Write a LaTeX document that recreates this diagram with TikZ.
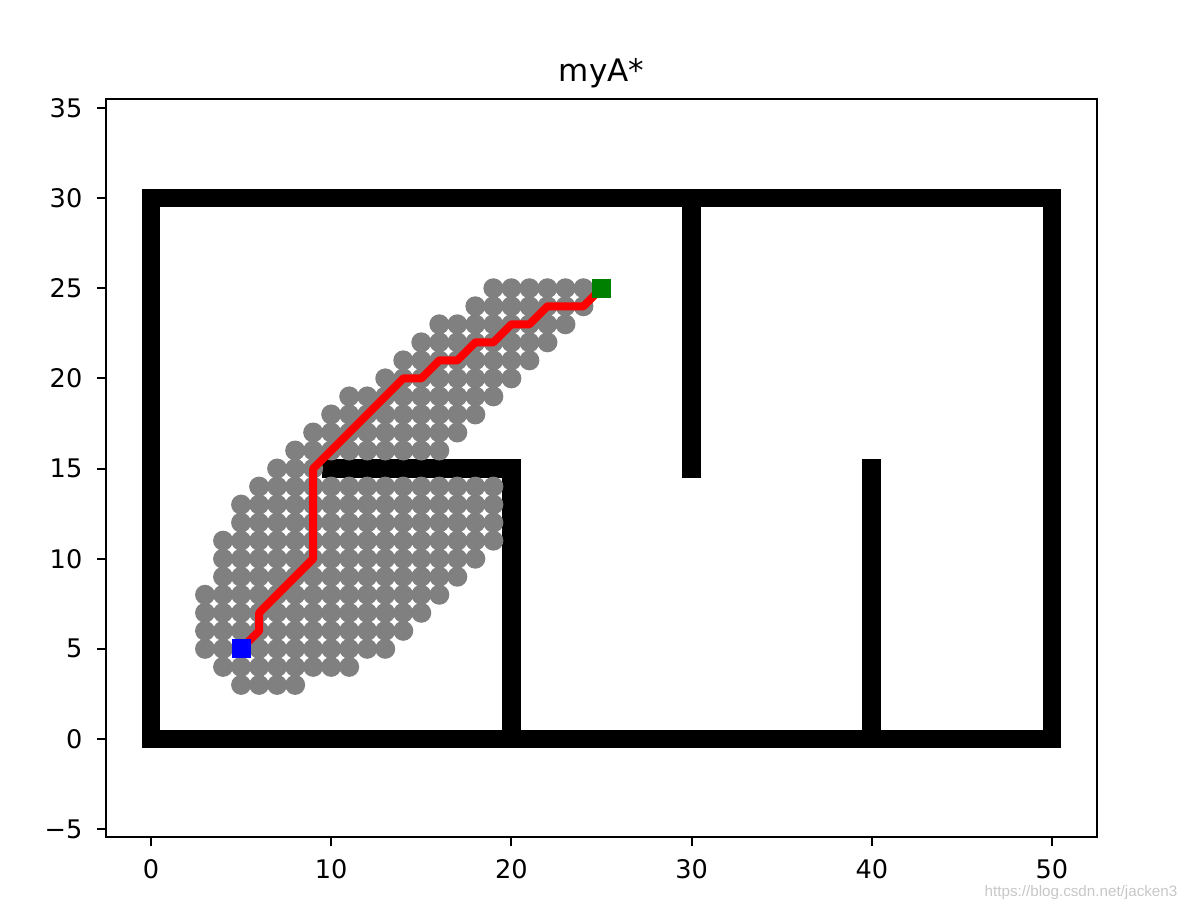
\documentclass[tikz,border=0pt]{standalone}
\usepackage{fontspec}
\setmainfont{DejaVu Sans}
\newfontfamily\wmfont{Liberation Sans}
\begin{document}
\begin{tikzpicture}[x=9.01pt,y=9.015pt,
  wall/.style={fill=black},
  visited/.style={fill=gray},
  pathline/.style={draw=red, line width=4pt, line join=round},
  marker/.style={minimum size=9.4pt, inner sep=0pt, outer sep=0pt},
  frame/.style={draw=black, line width=1pt},
  tickmark/.style={draw=black, line width=1pt},
  ticklab/.style={font=\fontsize{12.8}{14}\selectfont, inner sep=0pt, text=black},
  titlelab/.style={font=\fontsize{15.5}{18}\selectfont, inner sep=0pt},
  watermark/.style={font=\wmfont\fontsize{7.6}{9}\selectfont, inner sep=0pt, text=black!22}
]
\useasboundingbox (-8.3796,-9.484) rectangle (57.658,40.987);
% walls
\fill[wall] (-0.52,-0.52) rectangle (50.52,0.52);
\fill[wall] (-0.52,29.48) rectangle (50.52,30.52);
\fill[wall] (-0.52,-0.52) rectangle (0.52,30.52);
\fill[wall] (49.48,-0.52) rectangle (50.52,30.52);
\fill[wall] (9.48,14.48) rectangle (20.52,15.52);
\fill[wall] (19.48,-0.52) rectangle (20.52,15.52);
\fill[wall] (29.48,14.48) rectangle (30.52,30.52);
\fill[wall] (39.48,-0.52) rectangle (40.52,15.52);
% visited cells
\foreach \yy/\aa/\bb in {25/19/24, 24/18/24, 23/16/23, 22/15/22, 21/14/21,
  20/13/20, 19/11/19, 18/10/18, 17/9/17, 16/8/16, 15/7/9, 14/6/19, 13/5/19,
  12/5/19, 11/4/19, 10/4/18, 9/4/17, 8/3/16, 7/3/15, 6/3/14, 5/3/13, 4/4/11, 3/5/8}{
  \foreach \xx in {\aa,...,\bb}{
    \fill[visited] (\xx,\yy) circle[radius=5pt];
  }
}
% path
\coordinate (S) at (5,5);
\coordinate (G) at (25,25);
\draw[pathline] (S) -- (6,6) -- (6,7) -- (9,10) -- (9,15) -- (14,20) -- (15,20)
  -- (16,21) -- (17,21) -- (18,22) -- (19,22) -- (20,23) -- (21,23) -- (22,24)
  -- (24,24) -- (G);
\node[marker, fill=blue] (start) at (S) {};
\node[marker, fill={rgb,255:red,0;green,128;blue,0}] (goal) at (G) {};
% axes frame
\draw[frame] (-2.5,-5.45) rectangle (52.5,35.49);
% x ticks
\foreach \t in {0,10,20,30,40,50}{
  \draw[tickmark] (\t,-5.45) -- (\t,-5.95);
  \node[ticklab, anchor=base] at (\t,-7.76) {\t};
}
% y ticks
\foreach \t/\lab in {-5/−5,0/0,5/5,10/10,15/15,20/20,25/25,30/30,35/35}{
  \draw[tickmark] (-2.5,\t) -- (-3.0,\t);
  \node[ticklab, anchor=east] at (-3.79,\t) {\lab};
}
% title
\node[titlelab, anchor=base] (title) at (25,36.44) {myA*};
% watermark
\node[watermark, anchor=base] (wm) at (51.61,-8.76) {https://blog.csdn.net/jacken3};
\end{tikzpicture}
\end{document}
